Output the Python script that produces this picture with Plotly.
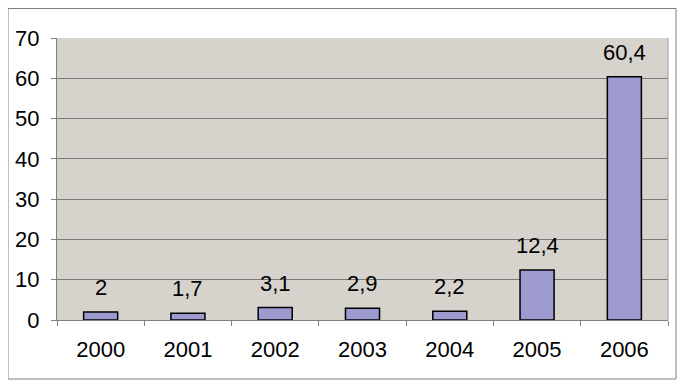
import plotly.graph_objects as go

years = ["2000", "2001", "2002", "2003", "2004", "2005", "2006"]
values = [2, 1.7, 3.1, 2.9, 2.2, 12.4, 60.4]
y_ticks = [0, 10, 20, 30, 40, 50, 60, 70]

labels = [("%g" % v).replace(".", ",") for v in values]
FONT = "Liberation Sans, Arial"

fig = go.Figure(go.Bar(
    x=years, y=values,
    marker=dict(color="#9C9ACE", line=dict(color="black", width=1.5)),
    width=0.39,
))

for i, (v, t) in enumerate(zip(values, labels)):
    fig.add_annotation(x=i, y=v, text=t, showarrow=False, yanchor="bottom",
                       yshift=10, font=dict(family=FONT, size=22, color="black"))

# page body adds an 8px offset; work in figure coordinates
OFF = 8
FW, FH = 685 - 2 * OFF, 389 - 2 * OFF
L, R, T, B = 57 - OFF, 668 - OFF, 38 - OFF, 320 - OFF
W, H = R - L, B - T

fig.update_layout(
    width=FW, height=FH,
    margin=dict(l=L, r=FW - R, t=T, b=FH - B),
    paper_bgcolor="white", plot_bgcolor="#D6D2CC",
    showlegend=False,
    font=dict(family=FONT, size=22, color="black"),
    xaxis=dict(type="category", range=[-0.5, len(years) - 0.5],
               tickson="boundaries", ticks="outside", ticklen=5,
               tickcolor="#808080", showline=True, linecolor="#808080",
               showgrid=False, tickfont=dict(size=22), automargin=False,
               ticklabelstandoff=10),
    yaxis=dict(range=[0, 70], tickvals=y_ticks, ticks="outside", ticklen=5,
               tickcolor="#808080", showline=True, linecolor="#808080",
               showgrid=True, gridcolor="#7A7A7A", gridwidth=1, zeroline=False,
               tickfont=dict(size=22), automargin=False, ticklabelstandoff=7),
    shapes=[
        dict(type="rect", xref="paper", yref="paper",
             x0=(8 - OFF - L) / W, x1=(676 - OFF - L) / W,
             y0=(B - (379 - OFF)) / H, y1=(B - (8 - OFF) - 0.5) / H,
             line=dict(color="#808080", width=1), fillcolor="rgba(0,0,0,0)"),
        dict(type="line", xref="paper", yref="paper", x0=1, x1=1, y0=0, y1=1,
             line=dict(color="#A0A0A0", width=1)),
    ],
)

fig.write_html("out.html")
